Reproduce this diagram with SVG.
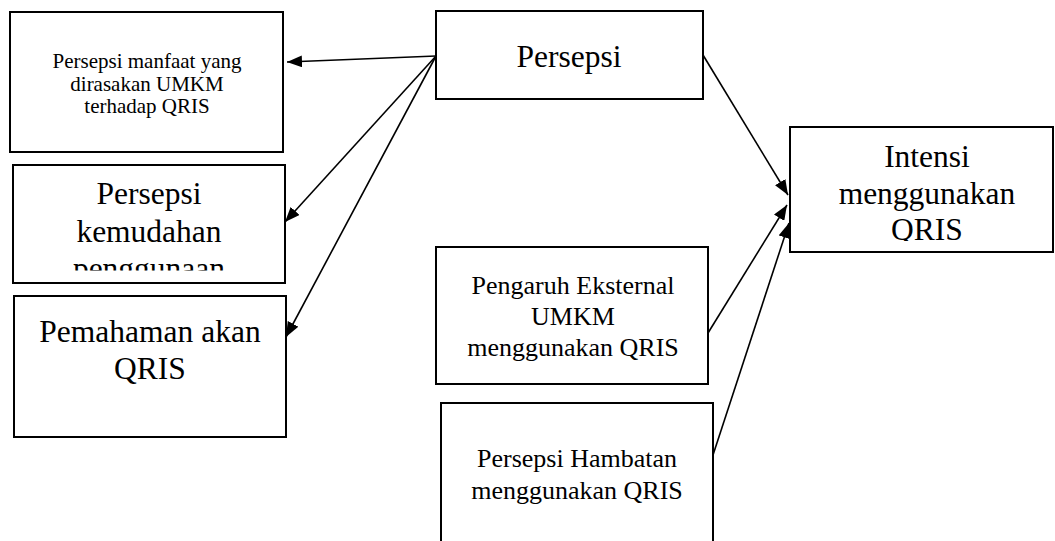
<svg xmlns="http://www.w3.org/2000/svg" width="1055" height="541" viewBox="0 0 1055 541">
<style>
.box{fill:#fff;stroke:#000;stroke-width:2}
.t{font-family:"Liberation Serif","Times New Roman",serif;fill:#000;text-anchor:middle}
.s21{font-size:21px}
.s26{font-size:26px}
.s31{font-size:31.5px}
.con{stroke:#000;stroke-width:1.6;fill:none;marker-end:url(#ah)}
</style>
<defs>
<marker id="ah" markerUnits="userSpaceOnUse" markerWidth="16" markerHeight="12" refX="15" refY="6" orient="auto">
<path d="M0,0 L15,6 L0,12 Z" fill="#000"/>
</marker>
<clipPath id="c2"><rect x="13" y="165" width="272" height="105.5"/></clipPath>
<clipPath id="c5"><rect x="790" y="127" width="263" height="114"/></clipPath>
</defs>
<g id="n1">
<rect class="box" x="10" y="12" width="273" height="140"/>
<text class="t s21" x="147" y="68">Persepsi manfaat yang</text>
<text class="t s21" x="147" y="90.5">dirasakan UMKM</text>
<text class="t s21" x="147" y="113">terhadap QRIS</text>
</g>
<g id="n2">
<rect class="box" x="13" y="165" width="272" height="118"/>
<g clip-path="url(#c2)">
<text class="t s31" x="149" y="204">Persepsi</text>
<text class="t s31" x="149" y="241.5">kemudahan</text>
<text class="t s31" x="149" y="279">penggunaan</text>
</g>
</g>
<g id="n3">
<rect class="box" x="14" y="296" width="272" height="141"/>
<text class="t s31" x="150" y="342">Pemahaman akan</text>
<text class="t s31" x="150" y="379">QRIS</text>
</g>
<g id="n4">
<rect class="box" x="436" y="11" width="267" height="88"/>
<text class="t s31" x="569" y="67">Persepsi</text>
</g>
<g id="n5">
<rect class="box" x="790" y="127" width="263" height="125"/>
<g clip-path="url(#c5)">
<text class="t s31" x="927" y="167">Intensi</text>
<text class="t s31" x="927" y="203.5">menggunakan</text>
<text class="t s31" x="927" y="240">QRIS</text>
</g>
</g>
<g id="n6">
<rect class="box" x="436" y="247" width="272" height="137"/>
<text class="t s26" x="573" y="294">Pengaruh Eksternal</text>
<text class="t s26" x="573" y="324.5">UMKM</text>
<text class="t s26" x="573" y="356">menggunakan QRIS</text>
</g>
<g id="n7">
<rect class="box" x="441" y="403" width="272" height="139"/>
<text class="t s26" x="577" y="467">Persepsi Hambatan</text>
<text class="t s26" x="577" y="499">menggunakan QRIS</text>
</g>
<g id="connectors">
<line class="con" x1="436" y1="56" x2="287" y2="62"/>
<line class="con" x1="436" y1="56" x2="285" y2="222"/>
<line class="con" x1="436" y1="56" x2="286" y2="337"/>
<line class="con" x1="703" y1="55" x2="788" y2="195"/>
<line class="con" x1="708" y1="333" x2="787" y2="205"/>
<line class="con" x1="713" y1="455" x2="789" y2="223"/>
</g>
</svg>
